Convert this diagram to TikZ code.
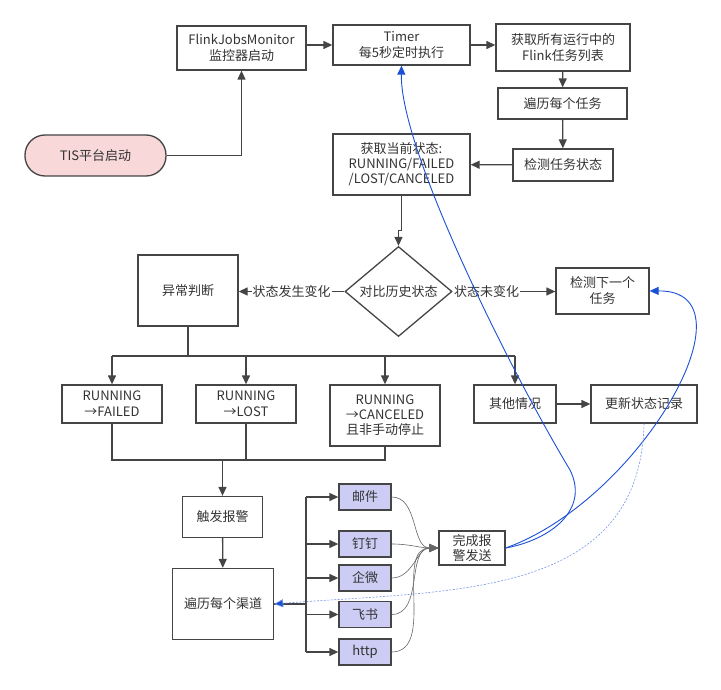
\documentclass[tikz,border=0pt]{standalone}
\usepackage{fontspec}
\setmainfont{Noto Sans CJK SC}
\usetikzlibrary{arrows.meta,shapes.geometric}
\definecolor{boxc}{HTML}{454545}
\definecolor{txtc}{HTML}{333333}
\definecolor{pinkc}{HTML}{F8D8D8}
\definecolor{lavc}{HTML}{CCCCF5}
\definecolor{bluec}{HTML}{1A4FD6}
\tikzset{
	box/.style={draw=boxc,line width=1.3pt,text=txtc,align=center,inner sep=1pt},
	chbox/.style={box,fill=lavc,minimum width=52pt,minimum height=26pt},
	line/.style={draw=boxc,line width=1.3pt},
	arr/.style={line,-{Triangle[length=9pt,width=8pt]}},
	thinarr/.style={draw=gray!80!black,line width=.6pt,-{Triangle[length=9pt,width=8pt]}},
	blu/.style={draw=bluec,line width=.9pt,-{Triangle[length=9pt,width=8pt]}},
	dsh/.style={draw=bluec!60,line width=.6pt,dash pattern=on 2pt off 1.5pt,-{Triangle[length=9pt,width=8pt,fill=bluec]}},
	lbl/.style={fill=white,inner sep=1pt,text=txtc}
}
\begin{document}
\begin{tikzpicture}[x=1pt,y=-1pt,font=\fontsize{13}{16}\selectfont]
	\useasboundingbox(0,0)rectangle(721,690);
	% top row
	\node[box,fill=pinkc,rounded corners=20pt,minimum width=141pt,minimum height=41pt](tis)at(95.5,155.5){TIS平台启动};
	\node[box,minimum width=129pt,minimum height=44pt](mon)at(241.5,48){FlinkJobsMonitor\\监控器启动};
	\node[box,minimum width=137pt,minimum height=40pt](timer)at(401.5,45){Timer\\每5秒定时执行};
	\node[box,minimum width=134pt,minimum height=47pt](fetch)at(563,47.5){获取所有运行中的\\Flink任务列表};
	\node[box,minimum width=129pt,minimum height=31pt](iter)at(562.5,103.5){遍历每个任务};
	\node[box,minimum width=100pt,minimum height=32pt](check)at(563,165){检测任务状态};
	\node[box,minimum width=137pt,minimum height=61pt,font=\fontsize{13}{15}\selectfont](state)at(401.5,164.5){获取当前状态:\\RUNNING/FAILED\\/LOST/CANCELED};
	% compare
	\node[box,shape=diamond,inner sep=0pt,minimum width=107pt,minimum height=67pt](cmp)at(398.5,291.5){对比历史状态};
	\node[box,minimum width=100pt,minimum height=71pt](abn)at(188,290.5){异常判断};
	\node[box,minimum width=93pt,minimum height=46pt](next)at(602.5,291){检测下一个\\任务};
	% cases
	\node[box,minimum width=100pt,minimum height=38pt](failed)at(112,404){RUNNING\\→FAILED};
	\node[box,minimum width=100pt,minimum height=38pt](lost)at(246,404){RUNNING\\→LOST};
	\node[box,minimum width=110pt,minimum height=61pt,font=\fontsize{13}{15}\selectfont](canc)at(385,415.5){RUNNING\\→CANCELED\\且非手动停止};
	\node[box,minimum width=82pt,minimum height=38pt](other)at(515,404){其他情况};
	\node[box,minimum width=106pt,minimum height=38pt](upd)at(644,404){更新状态记录};
	% alarm
	\node[box,minimum width=80pt,minimum height=41pt](alarm)at(222.5,517){触发报警};
	\node[box,minimum width=101pt,minimum height=71pt](chan)at(223,604){遍历每个渠道};
	\node[chbox](mail)at(365,497){邮件};
	\node[chbox](ding)at(365,544){钉钉};
	\node[chbox](wx)at(365,578){企微};
	\node[chbox](fs)at(365,614.5){飞书};
	\node[chbox](http)at(365,652){http};
	\node[box,minimum width=66pt,minimum height=34pt,font=\fontsize{13}{15}\selectfont](done)at(472,548){完成报\\警发送};
	\coordinate(br)at(188,356);
	\coordinate(mg)at(222.5,460);
	\coordinate(bus)at(306,604);
	% connectors
	\draw[arr](tis.east)-|(mon.south);
	\draw[arr](mon.east|-timer)--(timer.west);
	\draw[arr](timer.east)--(timer.east-|fetch.west);
	\draw[arr](fetch)--(iter);
	\draw[arr](iter)--(check);
	\draw[arr](check)--(state);
	\draw[arr](state.south)--++(0,35)-|(cmp.north);
	\draw[arr](cmp.west)--node[lbl]{状态发生变化}(cmp.west-|abn.east);
	\draw[arr](cmp.east)--node[lbl,pos=.33]{状态未变化}(cmp.east-|next.west);
	\draw[line](abn.south)--(br);
	\draw[line](failed.north|-br)--(other.north|-br);
	\foreach \n in {failed,lost,canc,other}
		\draw[arr](\n.north|-br)--(\n.north);
	\draw[arr](other)--(upd);
	\draw[line](failed.south)|-(mg)-|(canc.south);
	\draw[line](lost.south)--(lost.south|-mg);
	\draw[arr](mg)--(alarm.north);
	\draw[arr](alarm)--(chan);
	\draw[line](chan.east)--(bus);
	\draw[line](bus|-mail)--(bus|-http);
	\foreach \n in {mail,ding,wx,fs,http}{
		\draw[arr](bus|-\n)--(\n.west);
		\draw[thinarr](\n.east)to[out=0,in=180](done.west);
	}
	% back to loop
	\draw[blu](done.east)..controls(550,540)and(590,510)..(570,470)..controls(510,370)and(400,150)..(timer.south);
	\draw[blu](done.east)..controls(640,500)and(760,290)..(next.east);
	\draw[dsh](upd.south)..controls(640,600)and(450,590)..(chan.east);
\end{tikzpicture}
\end{document}
